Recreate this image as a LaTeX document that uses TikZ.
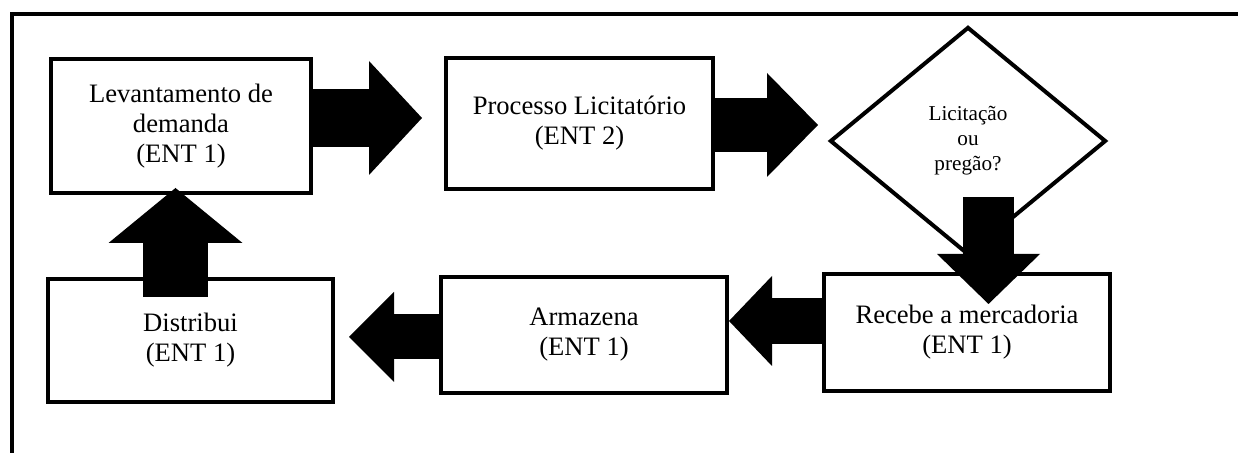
\documentclass[tikz,border=0pt]{standalone}
\usepackage{fontspec}
\setmainfont{Liberation Serif}
\usetikzlibrary{shapes.geometric,arrows.meta}

\begin{document}
\begin{tikzpicture}[x=0.5pt,y=-0.5pt,
  box/.style={draw,line width=2pt,rectangle,align=center,inner sep=0pt,
    font=\fontsize{13.3}{15}\selectfont},
  decision/.style={draw,line width=2pt,diamond,align=center,inner sep=0pt,
    font=\fontsize{10.6}{12.5}\selectfont},
  bigarrow/.style n args={3}{line width=#1,
    -{Triangle[width=#2,length=#3,line width=0pt]}}]
\useasboundingbox (0,0) rectangle (1238,453);

% frame
\draw[line width=2pt] (12,470) -- (12,14) -- (1250,14);

% boxes
\node[box, minimum width=130pt, minimum height=67pt] (levant) at (181,126) {Levantamento de\\demanda\\(ENT 1)};
\node[box, minimum width=133.5pt, minimum height=65.5pt] (proc) at (579.5,123.5) {Processo Licitatório\\(ENT 2)};
\node[decision, minimum width=138pt, minimum height=114pt] (licit) at (968,141) {Licitação\\ou\\pregão?};
\node[box, minimum width=143pt, minimum height=58.5pt] (receb) at (967,332.5) {Recebe a mercadoria\\(ENT 1)};
\node[box, minimum width=143pt, minimum height=58pt] (armaz) at (584,335) {Armazena\\(ENT 1)};
\node[box, minimum width=142.5pt, minimum height=61.5pt] (distr) at (190.5,340.5) {Distribui\\(ENT 1)};

% block arrows
\draw[bigarrow={29pt}{57pt}{26.5pt}, shorten >=11pt] ([yshift=4pt]levant.east) -- ([yshift=4pt]levant.east -| proc.west);
\draw[bigarrow={27pt}{52pt}{25.5pt}, shorten >=5pt] ([yshift=-0.75pt]proc.east) -- ([yshift=-0.75pt]proc.east -| licit.west);
\draw[bigarrow={25.5pt}{51.5pt}{25pt}] ([xshift=10.25pt,yshift=30pt]licit.south) -- ([xshift=10.25pt,yshift=-16pt]licit.south |- receb.north);
\draw[bigarrow={23pt}{45pt}{21.5pt}] ([yshift=5.75pt]receb.west) -- ([yshift=5.75pt]receb.west -| armaz.east);
\draw[bigarrow={22.5pt}{45pt}{22.5pt}, shorten >=7pt] ([yshift=-1pt]armaz.west) -- ([yshift=-1pt]armaz.west -| distr.east);
\draw[bigarrow={32.5pt}{67pt}{27.5pt}] ([xshift=-7.5pt,yshift=-10pt]distr.north) -- ([xshift=-7.5pt,yshift=3.5pt]distr.north |- levant.south);
\end{tikzpicture}
\end{document}
